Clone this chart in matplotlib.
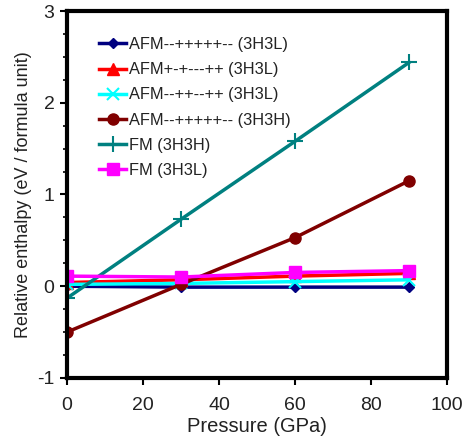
import numpy as np
import matplotlib.pyplot as plt
from matplotlib.ticker import MultipleLocator

# data
pressure = [0, 30, 60, 90]
afm_a_3h3l = [0.0, -0.01, -0.01, -0.01]
afm_b_3h3l = [0.04, 0.07, 0.11, 0.14]
afm_c_3h3l = [0.02, 0.03, 0.05, 0.07]
afm_a_3h3h = [-0.5, 0.02, 0.53, 1.15]
fm_3h3h = [-0.13, 0.73, 1.58, 2.44]
fm_3h3l = [0.11, 0.10, 0.15, 0.17]

labels = ['AFM--+++++-- (3H3L)', 'AFM+-+---++ (3H3L)', 'AFM--++--++ (3H3L)',
          'AFM--+++++-- (3H3H)', 'FM (3H3H)', 'FM (3H3L)']

plt.rcParams['font.family'] = ['Liberation Sans', 'DejaVu Sans']
plt.rcParams['axes.unicode_minus'] = False

fig = plt.figure(figsize=(4.67, 4.41), dpi=100)
ax = fig.add_axes([0.1435, 0.143, 0.814, 0.832])

ax.plot(pressure, afm_a_3h3l, color='#000080', marker='D', ms=5, lw=2.5, label=labels[0])
ax.plot(pressure, afm_b_3h3l, color='#ff0000', marker='^', ms=8, lw=2.5, label=labels[1])
ax.plot(pressure, afm_c_3h3l, color='#00ffff', marker='x', ms=8, mew=1.5, lw=2.5, label=labels[2])
ax.plot(pressure, afm_a_3h3h, color='#800000', marker='o', ms=8, lw=2.5, label=labels[3])
ax.plot(pressure, fm_3h3h, color='#008080', marker='+', ms=11, mew=1.5, lw=2.5, label=labels[4])
ax.plot(pressure, fm_3h3l, color='#ff00ff', marker='s', ms=8, lw=2.5, label=labels[5])

ax.set_xlim(0, 100)
ax.set_ylim(-1, 3)
ax.xaxis.set_major_locator(MultipleLocator(20))
ax.yaxis.set_major_locator(MultipleLocator(1))
ax.yaxis.set_minor_locator(MultipleLocator(0.25))
ax.tick_params(axis='both', which='major', direction='out', length=5, width=1.5,
               labelsize=14, pad=9, colors='black', labelcolor='#222222')
ax.tick_params(axis='y', which='minor', direction='out', length=3, width=1.2)
ax.tick_params(axis='y', pad=4)
for s in ax.spines.values():
    s.set_linewidth(3)

ax.set_xlabel('Pressure (GPa)', fontsize=14.5, labelpad=2, color='#222222')
ax.set_ylabel('Relative enthalpy (eV / formula unit)', fontsize=13, labelpad=4, color='#222222')

leg = ax.legend(loc='upper left', frameon=False, fontsize=11.8, handlelength=1.6,
                handletextpad=0.2, labelspacing=0.62, bbox_to_anchor=(0.055, 0.96),
                borderaxespad=0.3)
for t in leg.get_texts():
    t.set_color('#222222')

fig.savefig('out.png', dpi=100)
